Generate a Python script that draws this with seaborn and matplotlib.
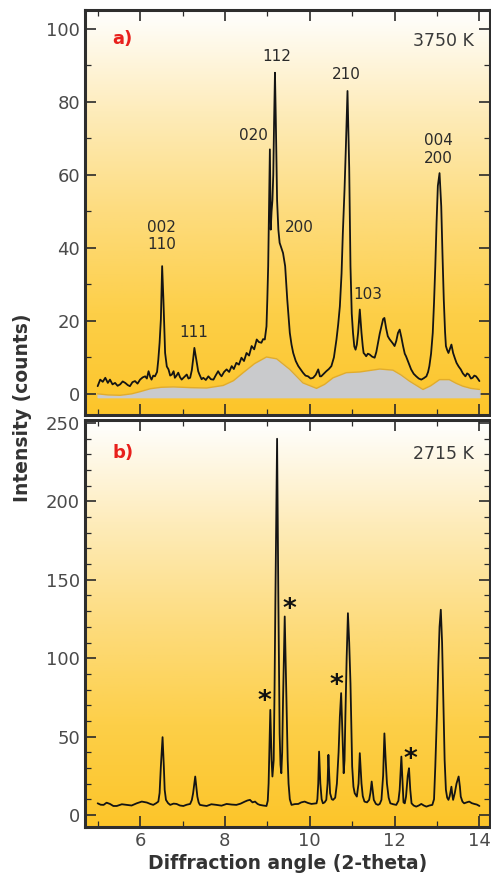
import numpy as np
import pandas as pd
import seaborn as sns
import matplotlib.pyplot as plt
from matplotlib.colors import LinearSegmentedColormap
from matplotlib.ticker import MultipleLocator

# panel a) 3750 K
ang_a = [5.0, 5.06, 5.12, 5.18, 5.24, 5.29, 5.35, 5.41, 5.47, 5.53, 5.59, 5.65, 5.71, 5.76, 5.82,
         5.88, 5.94, 6.0, 6.06, 6.12, 6.16, 6.2, 6.24, 6.27, 6.31, 6.35, 6.4, 6.43, 6.46, 6.49,
         6.52, 6.55, 6.59, 6.63, 6.67, 6.71, 6.75, 6.79, 6.82, 6.86, 6.9, 6.94, 6.98, 7.04, 7.1,
         7.14, 7.18, 7.22, 7.25, 7.28, 7.31, 7.34, 7.37, 7.40, 7.45, 7.49, 7.55, 7.61, 7.67, 7.73,
         7.78, 7.84, 7.88, 7.92, 7.98, 8.04, 8.1, 8.16, 8.21, 8.27, 8.33, 8.39, 8.45, 8.51, 8.57,
         8.63, 8.69, 8.75, 8.8, 8.86, 8.9, 8.94, 8.98, 9.0, 9.02, 9.04, 9.06, 9.08, 9.10, 9.12,
         9.14, 9.16, 9.18, 9.2, 9.23, 9.26, 9.29, 9.33, 9.37, 9.42, 9.47, 9.53, 9.57, 9.61, 9.67,
         9.73, 9.78, 9.84, 9.9, 9.96, 10.02, 10.08, 10.14, 10.2, 10.24, 10.27, 10.33, 10.39, 10.45,
         10.51, 10.57, 10.63, 10.67, 10.71, 10.75, 10.78, 10.82, 10.85, 10.89, 10.91, 10.93, 10.96,
         10.99, 11.02, 11.05, 11.08, 11.11, 11.14, 11.18, 11.2, 11.22, 11.25, 11.27, 11.3, 11.33,
         11.37, 11.41, 11.47, 11.53, 11.57, 11.61, 11.65, 11.69, 11.73, 11.76, 11.8, 11.84, 11.88,
         11.92, 11.96, 12.0, 12.04, 12.08, 12.12, 12.16, 12.2, 12.24, 12.27, 12.33, 12.39, 12.45,
         12.51, 12.57, 12.63, 12.69, 12.75, 12.79, 12.82, 12.86, 12.9, 12.93, 12.96, 12.99, 13.02,
         13.06, 13.08, 13.1, 13.13, 13.16, 13.19, 13.21, 13.24, 13.27, 13.31, 13.34, 13.38, 13.42,
         13.46, 13.51, 13.56, 13.61, 13.67, 13.71, 13.75, 13.8, 13.84, 13.88, 13.92, 13.96, 14.0]
int_a = [2.1, 3.9, 3.3, 4.4, 3.0, 3.9, 2.6, 3.0, 2.2, 2.6, 3.4, 3.0, 2.4, 2.1, 3.2,
         3.5, 2.8, 3.9, 4.5, 4.8, 4.2, 6.2, 4.6, 3.9, 5.0, 4.8, 6.0, 9.4, 14.0, 20.4,
         35.0, 25.8, 11.2, 7.5, 6.7, 5.0, 5.3, 6.2, 4.4, 5.0, 5.8, 4.6, 3.9, 4.6, 5.3,
         4.2, 4.4, 6.5, 9.4, 12.6, 10.5, 8.5, 6.2, 5.3, 4.0, 4.4, 3.8, 4.8, 4.0, 3.9,
         5.0, 6.2, 5.4, 4.8, 6.0, 6.7, 6.0, 7.6, 6.8, 8.5, 8.0, 9.9, 9.0, 11.2, 10.5,
         13.1, 12.2, 14.9, 14.2, 14.0, 15.0, 14.9, 18.5, 26.0, 35.0, 52.0, 67.0, 45.0, 50.0, 53.0,
         60.0, 75.0, 88.0, 75.0, 53.0, 45.0, 41.4, 40.0, 38.6, 35.0, 25.8, 16.7, 13.5, 11.2, 9.0,
         7.6, 6.8, 5.8, 5.0, 4.8, 4.2, 4.4, 5.2, 6.7, 4.8, 4.8, 5.5, 6.2, 6.8,
         7.6, 10.0, 14.9, 19.0, 24.0, 33.0, 44.0, 56.0, 67.0, 83.0, 72.0, 62.0, 35.0,
         22.0, 16.7, 13.0, 12.1, 13.5, 16.7, 23.1, 20.0, 16.7, 13.0, 11.2, 10.8, 10.3,
         11.0, 10.8, 10.2, 9.9, 11.5, 14.0, 16.5, 18.5, 20.5, 20.8, 18.0, 15.8, 15.0,
         14.4, 13.8, 13.1, 14.5, 16.7, 17.6, 15.5, 13.1, 11.0, 10.3, 8.5, 6.7, 5.5,
         4.8, 4.2, 3.9, 4.3, 4.8, 6.0, 7.6, 11.0, 16.7, 25.0, 35.0, 47.0, 57.0,
         60.5, 56.0, 51.4, 38.0, 25.8, 17.0, 13.1, 12.0, 11.2, 12.5, 13.5, 11.2, 9.8,
         8.5, 7.5, 6.7, 5.6, 4.8, 5.6, 5.3, 4.2, 4.4, 5.0, 4.8, 4.2, 3.5]

# smooth amorphous/background contribution (grey area)
bg_ang = [5.0, 5.25, 5.53, 5.8, 6.0, 6.24, 6.5, 6.79, 7.2, 7.57, 7.96, 8.2, 8.43, 8.7,
          8.98, 9.22, 9.53, 9.84, 10.16, 10.35, 10.55, 10.86, 11.18, 11.65, 11.96, 12.15,
          12.35, 12.67, 12.85, 13.06, 13.29, 13.45, 13.61, 13.8, 14.0]
bg_int = [0.0, -0.3, -0.4, 0.0, 0.6, 1.4, 1.8, 1.9, 1.7, 1.6, 2.3, 3.6, 5.8, 8.3,
          10.1, 9.6, 6.7, 3.0, 1.5, 2.6, 4.4, 5.8, 6.0, 6.8, 6.5, 5.2,
          3.5, 1.2, 2.2, 3.9, 3.9, 2.9, 2.1, 1.5, 1.2]

# panel b) 2715 K
ang_b = [5.0, 5.07, 5.14, 5.21, 5.29, 5.37, 5.45, 5.57, 5.69, 5.8, 5.92, 6.04, 6.16, 6.24,
         6.31, 6.38, 6.43, 6.46, 6.49, 6.53, 6.56, 6.58, 6.61, 6.66, 6.71, 6.79, 6.86, 6.94,
         7.02, 7.1, 7.18, 7.22, 7.25, 7.3, 7.35, 7.38, 7.41, 7.49, 7.57, 7.68, 7.8, 7.92,
         8.04, 8.16, 8.27, 8.37, 8.47, 8.53, 8.59, 8.65, 8.71, 8.77, 8.82, 8.9, 8.98, 9.01,
         9.03, 9.05, 9.07, 9.1, 9.12, 9.15, 9.17, 9.19, 9.23, 9.26, 9.29, 9.31, 9.33, 9.35,
         9.37, 9.41, 9.45, 9.48, 9.5, 9.53, 9.57, 9.65, 9.73, 9.8, 9.88, 9.96, 10.04, 10.1,
         10.16, 10.18, 10.2, 10.22, 10.25, 10.28, 10.31, 10.35, 10.39, 10.42, 10.44, 10.46,
         10.48, 10.52, 10.55, 10.6, 10.64, 10.68, 10.71, 10.74, 10.77, 10.8, 10.82, 10.84,
         10.87, 10.9, 10.93, 10.96, 11.0, 11.03, 11.06, 11.11, 11.15, 11.18, 11.22, 11.25,
         11.29, 11.35, 11.4, 11.43, 11.46, 11.49, 11.51, 11.56, 11.61, 11.65, 11.69, 11.73,
         11.76, 11.79, 11.82, 11.86, 11.9, 11.97, 12.04, 12.09, 12.12, 12.16, 12.19, 12.21,
         12.24, 12.27, 12.31, 12.34, 12.37, 12.4, 12.45, 12.51, 12.57, 12.63, 12.69, 12.75,
         12.82, 12.89, 12.93, 12.96, 13.0, 13.03, 13.06, 13.09, 13.12, 13.15, 13.18, 13.21,
         13.24, 13.27, 13.3, 13.34, 13.36, 13.38, 13.42, 13.46, 13.51, 13.54, 13.56, 13.6,
         13.64, 13.7, 13.76, 13.82, 13.88, 13.94, 14.0]
int_b = [7.4, 6.5, 6.4, 7.8, 7.0, 5.7, 5.7, 6.8, 6.4, 6.0, 7.4, 8.5, 7.9, 7.0,
         6.4, 7.5, 8.5, 14.0, 31.0, 49.6, 31.0, 16.0, 9.6, 7.5, 6.4, 7.2, 7.0, 6.0,
         5.7, 6.5, 7.0, 9.5, 13.8, 24.5, 11.7, 8.0, 6.4, 6.0, 5.7, 6.8, 6.4, 5.9,
         7.0, 6.6, 6.4, 7.2, 8.5, 9.2, 9.6, 8.0, 8.5, 7.0, 6.4, 6.0, 5.7, 9.0,
         20.0, 45.0, 67.0, 35.0, 24.5, 35.0, 80.0, 137.0, 240.0, 137.0, 52.0, 32.0, 26.6, 40.0,
         73.0, 126.6, 73.0, 35.0, 20.0, 10.0, 6.4, 6.9, 7.0, 8.0, 8.5, 7.6, 7.0, 7.2,
         7.4, 10.0, 20.0, 40.4, 20.0, 10.0, 7.4, 8.0, 9.6, 20.0, 38.3, 25.0,
         13.8, 10.0, 9.6, 11.0, 20.0, 40.0, 62.8, 77.7, 52.0, 26.6, 35.0, 62.8,
         100.0, 128.7, 110.0, 84.0, 31.0, 18.0, 13.8, 11.7, 20.0, 39.4, 20.0, 12.0,
         8.5, 8.0, 9.6, 14.0, 21.3, 14.0, 9.6, 7.0, 6.4, 7.0, 9.6, 25.0,
         52.0, 35.0, 20.0, 11.0, 7.4, 6.8, 6.4, 9.0, 16.0, 37.2, 20.0, 8.0,
         7.4, 11.7, 25.0, 29.8, 16.0, 7.4, 6.0, 5.3, 6.0, 7.0, 6.0, 5.3,
         6.0, 6.4, 10.0, 31.0, 65.0, 94.7, 120.0, 130.9, 110.0, 73.0, 35.0, 16.0,
         11.0, 9.6, 12.0, 18.0, 13.0, 9.6, 14.0, 20.0, 24.5, 18.0, 11.7, 8.5,
         7.4, 8.0, 8.5, 7.5, 7.0, 6.6, 5.7]

# hkl labels on panel a
hkl_text = ['002\n110', '111', '020', '112', '200', '210', '103', '004\n200']
hkl_x = [6.51, 7.27, 8.67, 9.23, 9.76, 10.86, 11.37, 13.03]
hkl_y = [43.2, 16.7, 70.8, 92.5, 45.5, 87.5, 27.2, 67.0]

# asterisks on panel b
star_x = [8.94, 9.53, 10.64, 12.38]
star_y = [72.0, 131.0, 82.0, 35.0]

df_a = pd.DataFrame({'angle': ang_a, 'intensity': int_a})
df_b = pd.DataFrame({'angle': ang_b, 'intensity': int_b})

sns.set_style('ticks')
plt.rcParams['font.family'] = ['DejaVu Sans']

gold = LinearSegmentedColormap.from_list(
    'gold', ['#fcc52a', '#fdcf48', '#fddc7e', '#feecbb', '#ffffff'])
grad = np.linspace(0, 1, 256).reshape(-1, 1)

fig = plt.figure(figsize=(4.91, 8.83), dpi=100)
ax_a = fig.add_axes([0.173, 0.530, 0.825, 0.4587])
ax_b = fig.add_axes([0.173, 0.0638, 0.825, 0.4606])

for ax in (ax_a, ax_b):
    ax.imshow(grad, extent=[0, 1, 0, 1], transform=ax.transAxes, origin='lower',
              aspect='auto', cmap=gold, zorder=0)

# grey background hump
ax_a.fill_between(bg_ang, -0.9, bg_int, color='#c9cacc', zorder=1)
ax_a.plot(bg_ang, bg_int, color='#e2ac2a', lw=1.0, zorder=1)

sns.lineplot(data=df_a, x='angle', y='intensity', ax=ax_a, color='#141414', lw=1.3, zorder=3)
sns.lineplot(data=df_b, x='angle', y='intensity', ax=ax_b, color='#141414', lw=1.3, zorder=3)

for t, x, y in zip(hkl_text, hkl_x, hkl_y):
    ax_a.text(x, y, t, ha='center', va='center', fontsize=11, color='#2a2a2a',
              linespacing=1.2, zorder=4)
for x, y in zip(star_x, star_y):
    ax_b.text(x, y, '*', ha='center', va='center', fontsize=19, fontweight='bold',
              color='#111111', zorder=4)

ax_a.text(5.59, 97.3, 'a)', color='#e8201c', fontweight='bold', fontsize=13,
          ha='center', va='center')
ax_a.text(13.86, 96.6, '3750 K', color='#3a3a3a', fontsize=12.5, ha='right', va='center')
ax_b.text(5.59, 230.9, 'b)', color='#e8201c', fontweight='bold', fontsize=13,
          ha='center', va='center')
ax_b.text(13.86, 230.0, '2715 K', color='#3a3a3a', fontsize=12.5, ha='right', va='center')

ax_a.set_xlim(4.7, 14.25)
ax_b.set_xlim(4.7, 14.25)
ax_a.set_ylim(-5.8, 105.2)
ax_b.set_ylim(-7.5, 252)

ax_a.yaxis.set_major_locator(MultipleLocator(20))
ax_a.yaxis.set_minor_locator(MultipleLocator(10))
ax_b.yaxis.set_major_locator(MultipleLocator(50))
ax_b.yaxis.set_minor_locator(MultipleLocator(10))
for ax in (ax_a, ax_b):
    ax.xaxis.set_major_locator(MultipleLocator(2))
    ax.xaxis.set_minor_locator(MultipleLocator(1))
    ax.tick_params(which='both', direction='in', top=True, right=True, color='#2a2a2a')
    ax.tick_params(which='major', length=8, width=1.2, labelsize=13, labelcolor='#4a4a4a')
    ax.tick_params(which='minor', length=4, width=0.9)
    for s in ax.spines.values():
        s.set_linewidth(2.2)
        s.set_color('#2e2e2e')
    ax.set_xlabel('')
    ax.set_ylabel('')

ax_a.tick_params(labelbottom=False)
ax_b.set_xlabel('Diffraction angle (2-theta)', fontsize=13.5, fontweight='bold',
                color='#333333', labelpad=3)
fig.text(0.045, 1 - 408 / 883, 'Intensity (counts)', rotation=90, fontsize=13.5,
         fontweight='bold', color='#333333', ha='center', va='center')

fig.savefig('out.png', dpi=100)
